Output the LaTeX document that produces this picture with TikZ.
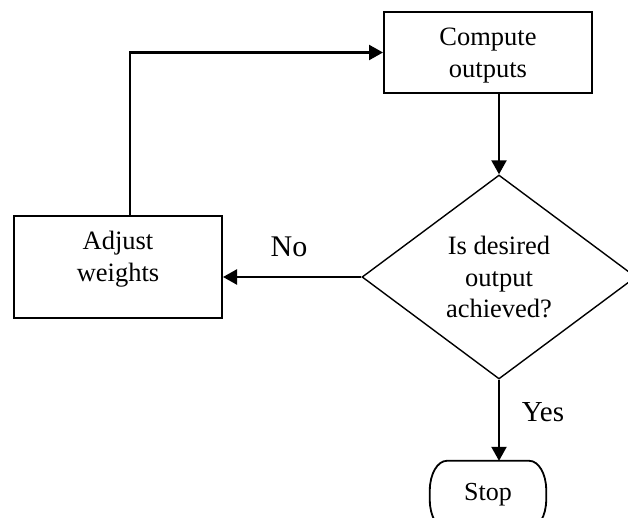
\documentclass[tikz,border=0pt]{standalone}
\usepackage{fontspec}
\setmainfont{Liberation Serif}
\usetikzlibrary{arrows.meta,shapes.geometric}

\tikzset{
  boxshape/.style={draw, line width=2pt, rectangle, inner sep=0pt},
  decshape/.style={draw, line width=1.4pt, diamond, aspect=1.343, inner sep=0pt,
    minimum width=274pt, minimum height=204pt, align=center,
    font=\fontsize{26.5}{31.5}\selectfont},
  termshape/.style={rectangle, minimum width=116pt, minimum height=68pt, inner sep=0pt,
    font=\fontsize{26}{30}\selectfont},
  termline/.style={line width=1.8pt, line join=round},
  boxtext/.style={align=center, inner sep=0pt, font=\fontsize{26.5}{31.5}\selectfont},
  edgelabel/.style={inner sep=0pt, font=\fontsize{30}{36}\selectfont},
  flow/.style={line width=2.3pt, -{Triangle[length=14pt,width=15pt]}},
}

\begin{document}
\begin{tikzpicture}[x=1pt, y=-1pt]
  \useasboundingbox (0,0) rectangle (628,518);
  \clip (0,0) rectangle (628,518);
  \fill[white] (0,0) rectangle (628,518);

  % process boxes
  \node[boxshape, minimum width=208pt, minimum height=81pt] (comp) at (488,52.5) {};
  \node[boxtext, yshift=-3pt] (comptext) at (comp.center) {Compute\\outputs};

  \node[boxshape, minimum width=208pt, minimum height=102pt] (adj) at (118,267) {};
  \node[boxtext, yshift=8pt] (adjtext) at (adj.center) {Adjust\\weights};

  % decision
  \node[decshape] (dec) at (499,277) {Is desired\\output\\achieved?};

  % terminal: rectangle with elliptical corners
  \node[termshape] (stop) at (488,495) {Stop};
  \draw[termline] ([xshift=17pt]stop.north west) -- ([xshift=-17pt]stop.north east)
    .. controls +(9.4,0) and +(0,-16) .. ++(17,29)
    -- ++(0,10)
    .. controls +(0,16) and +(9.4,0) .. ++(-17,29)
    -- ([xshift=17pt]stop.south west)
    .. controls +(-9.4,0) and +(0,16) .. ++(-17,-29)
    -- ++(0,-10)
    .. controls +(0,-16) and +(-9.4,0) .. ([xshift=17pt]stop.north west)
    -- cycle;

  % connectors
  \draw[flow] ([xshift=12pt]adj.north) |- (comp.west);
  \draw[flow] (dec.north |- comp.south) -- (dec.north);
  \draw[flow] (dec.west) -- (adj.east |- dec.west);
  \draw[flow] (dec.south) -- (dec.south |- stop.north);

  % branch labels
  \node[edgelabel] (nolabel) at (289,247) {No};
  \node[edgelabel, font=\fontsize{29}{35}\selectfont] (yeslabel) at (543,412) {Yes};
\end{tikzpicture}
\end{document}
